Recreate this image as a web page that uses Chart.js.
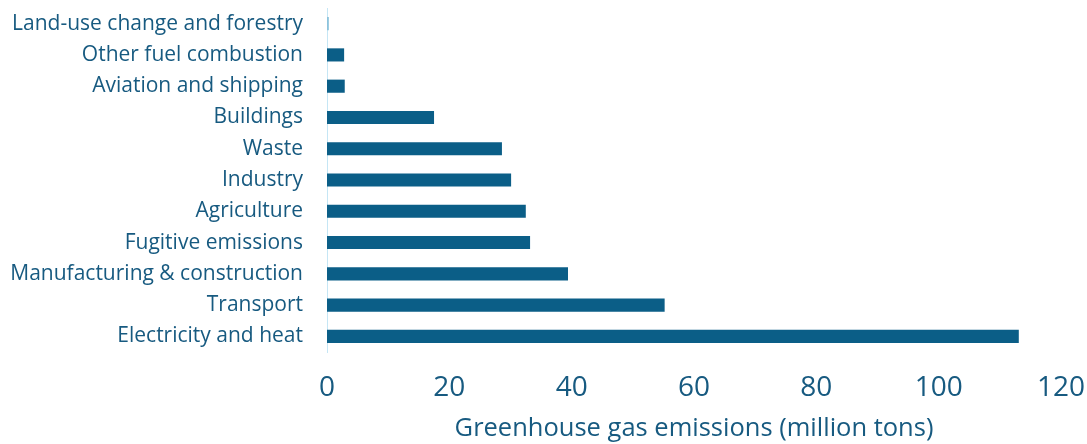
<!DOCTYPE html>
<html>
<head>
<meta charset="utf-8">
<script src="https://cdn.jsdelivr.net/npm/chart.js@4"></script>
<style>
  html, body { margin: 0; padding: 0; background: #fff; }
  #wrap { width: 1087px; height: 444px; }
</style>
</head>
<body>
<div id="wrap"><canvas id="chart" width="1087" height="444"></canvas></div>
<script>
const sectors = [
    'Land-use change and forestry', 'Other fuel combustion', 'Aviation and shipping',
    'Buildings', 'Waste', 'Industry', 'Agriculture', 'Fugitive emissions',
    'Manufacturing & construction', 'Transport', 'Electricity and heat'
];
const emissions = [0.3, 2.8, 2.9, 17.5, 28.6, 30.1, 32.5, 33.2, 39.4, 55.2, 113.1];
const xTicks = [0, 20, 40, 60, 80, 100, 120];

const textColor = '#175a80';
const barColors = sectors.map((s, i) => i === 0 ? '#8cc3dd' : '#0b5e87');

document.addEventListener('DOMContentLoaded', function () {
    const ctx = document.getElementById('chart').getContext('2d');
    new Chart(ctx, {
        type: 'bar',
        data: {
            labels: sectors,
            datasets: [{
                data: emissions,
                backgroundColor: barColors,
                borderWidth: 0,
                barPercentage: 0.42,
                categoryPercentage: 1
            }]
        },
        options: {
            indexAxis: 'y',
            responsive: false,
            animation: false,
            layout: { padding: { left: 8, right: 26, top: 8, bottom: 0 } },
            plugins: { legend: { display: false }, tooltip: { enabled: false } },
            scales: {
                x: {
                    min: 0, max: 120,
                    afterBuildTicks: function (axis) { axis.ticks = xTicks.map(v => ({ value: v })); },
                    grid: { display: false },
                    border: { display: false },
                    ticks: {
                        color: textColor,
                        padding: 11,
                        font: { family: 'Open Sans', size: 28 }
                    },
                    title: {
                        display: true,
                        text: 'Greenhouse gas emissions (million tons)',
                        color: textColor,
                        font: { family: 'Open Sans', size: 25.5 },
                        padding: { top: 0, bottom: 0 }
                    },
                    afterFit: function (axis) {
                        axis.height = 92;
                        axis.paddingLeft = 0;
                        axis.paddingRight = 0;
                    }
                },
                y: {
                    grid: { display: false },
                    border: { display: true, color: '#c5e6f5', width: 1 },
                    ticks: {
                        color: textColor,
                        padding: 16,
                        font: { family: 'Open Sans', size: 21 }
                    },
                    afterFit: function (axis) {
                        axis.width = 319;
                        axis.paddingTop = 0;
                        axis.paddingBottom = 0;
                    }
                }
            }
        }
    });
});
</script>
</body>
</html>
